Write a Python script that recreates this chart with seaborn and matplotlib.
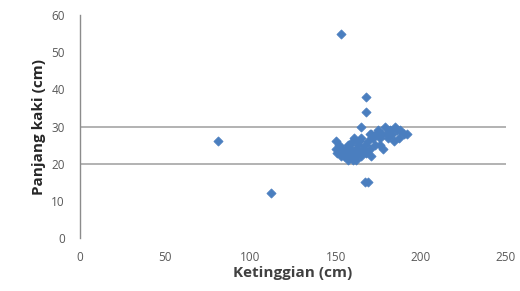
import pandas as pd
import matplotlib
matplotlib.use("Agg")
import matplotlib.pyplot as plt
import seaborn as sns

# heights (cm) and leg lengths (cm)
ketinggian = [81, 112, 153, 168, 168, 165, 167, 169,
              150, 150, 151, 152, 153, 154, 155, 155, 156, 156, 157, 157,
              158, 158, 159, 159, 160, 160, 160, 161, 161, 162, 162, 163,
              163, 164, 164, 165, 165, 166, 167, 168, 169, 170, 170, 171,
              171, 172, 173, 174, 175, 176, 176, 177, 178, 179, 180, 181,
              182, 183, 184, 185, 186, 187, 188, 190, 192]
panjang_kaki = [26, 12, 55, 38, 34, 30, 15, 15,
                26, 24, 23, 25, 22, 24, 23, 22, 24, 22, 21, 25,
                23, 25, 22, 24, 21, 23, 26, 22, 27, 24, 21, 23,
                25, 23, 26, 22, 27, 24, 25, 23, 26, 28, 24, 28,
                22, 27, 25, 28, 29, 25, 27, 28, 24, 30, 28, 27,
                29, 28, 26, 30, 29, 27, 29, 28, 28]

df = pd.DataFrame({"Ketinggian (cm)": ketinggian, "Panjang kaki (cm)": panjang_kaki})

sns.set_style("white")
plt.rcParams["font.family"] = ["Open Sans", "DejaVu Sans"]

fig = plt.figure(figsize=(5.2, 2.91), dpi=100)
ax = fig.add_axes([0.154, 0.182, 0.819, 0.766])

# only the 20 and 30 gridlines show in the original
for g in [20, 30]:
    ax.axhline(g, color="#a6a6a6", lw=1.2, zorder=0)

sns.scatterplot(data=df, x="Ketinggian (cm)", y="Panjang kaki (cm)", ax=ax,
                marker="D", s=22, color="#4a7ebf", edgecolor="#4a7ebf",
                linewidth=0.5, zorder=3)

ax.set_xlim(0, 250)
ax.set_ylim(0, 60)
ax.set_xticks([0, 50, 100, 150, 200, 250])
ax.set_yticks([0, 10, 20, 30, 40, 50, 60])
ax.tick_params(axis="both", length=0, labelsize=8.5, labelcolor="#595959")
ax.tick_params(axis="y", pad=11)
ax.tick_params(axis="x", pad=9)

for side in ["top", "right", "bottom"]:
    ax.spines[side].set_visible(False)
ax.spines["left"].set_color("#8c8c8c")
ax.spines["left"].set_linewidth(1.0)

ax.set_xlabel("Ketinggian (cm)", fontsize=11, fontweight="bold", color="#404040", labelpad=2)
ax.set_ylabel("Panjang kaki (cm)", fontsize=11, fontweight="bold", color="#262626", labelpad=4)

fig.savefig("out.png", dpi=100)
